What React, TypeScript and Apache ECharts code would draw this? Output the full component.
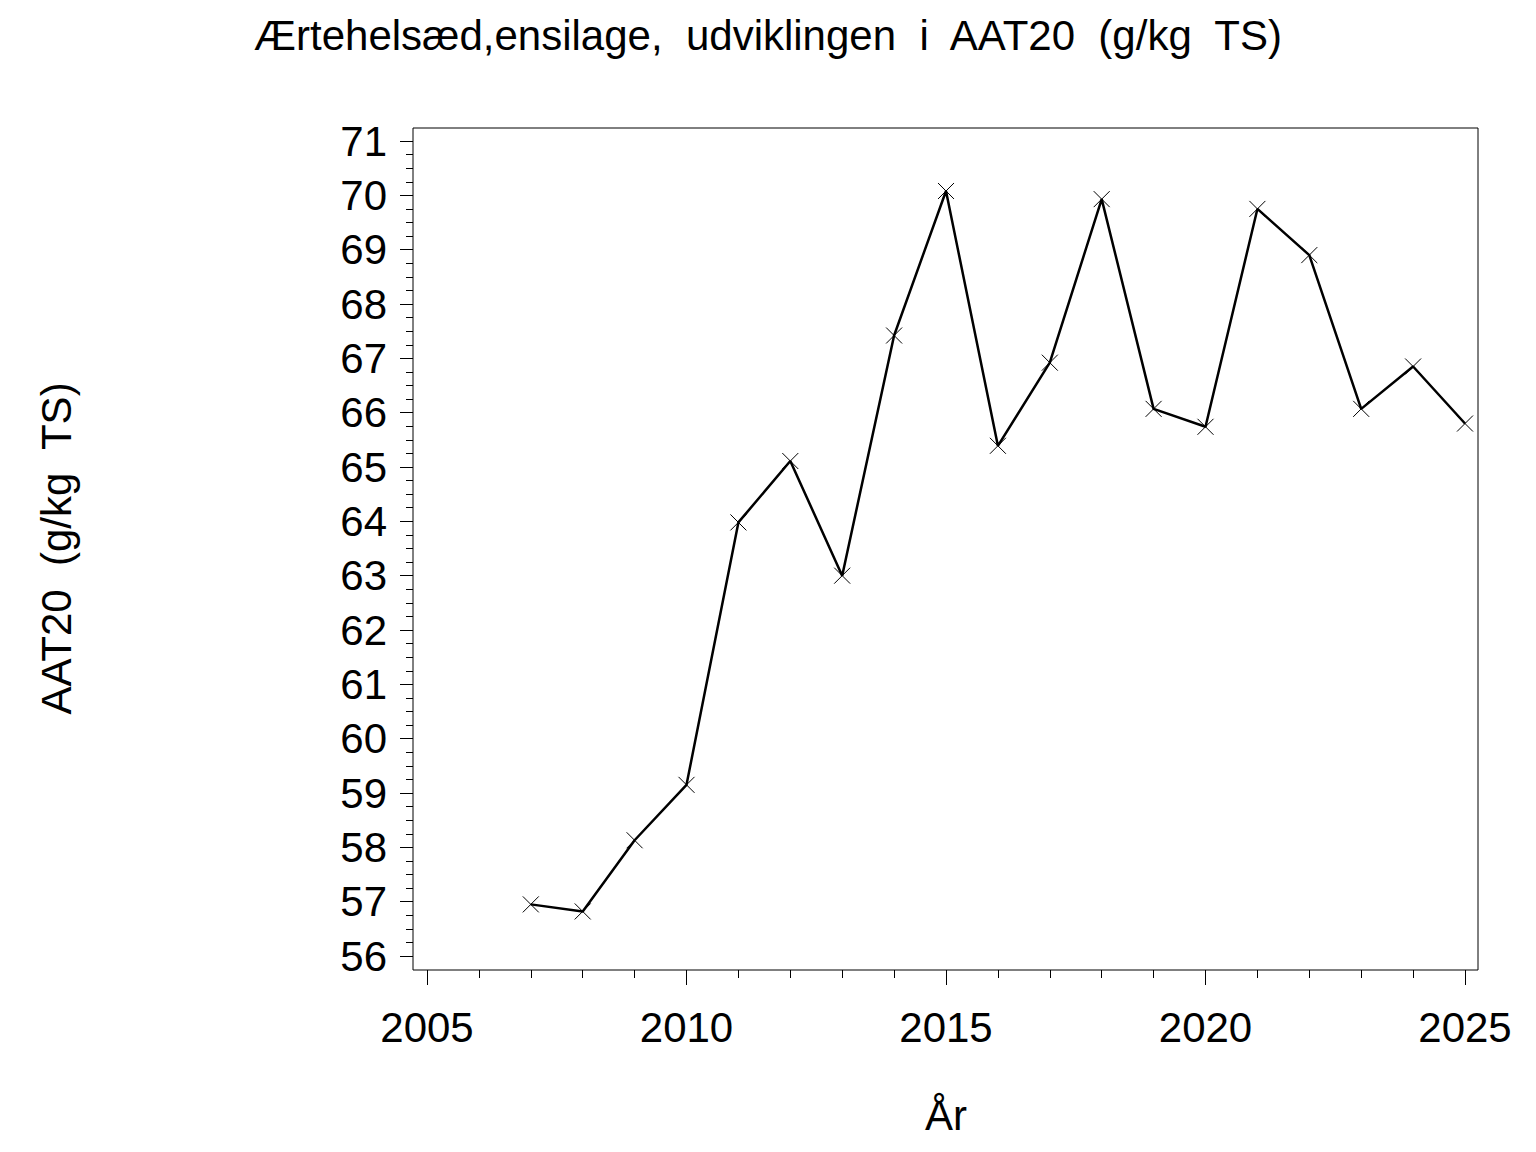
import React, { useEffect, useRef } from "react";
import * as echarts from "echarts";

const years = [2007, 2008, 2009, 2010, 2011, 2012, 2013, 2014, 2015, 2016, 2017, 2018, 2019, 2020, 2021, 2022, 2023, 2024, 2025];
const aat20 = [56.95, 56.82, 58.13, 59.15, 63.98, 65.11, 63.0, 67.42, 70.08, 65.39, 66.92, 69.93, 66.07, 65.74, 69.75, 68.9, 66.07, 66.85, 65.8];

const titleText = "Ærtehelsæd,ensilage,  udviklingen  i  AAT20  (g/kg  TS)";
const yName = "AAT20  (g/kg  TS)";
const xName = "År";

const FONT = "'Liberation Sans', Arial, sans-serif";

export default function App() {
  const ref = useRef<HTMLDivElement>(null);
  useEffect(() => {
    if (!ref.current) return;
    const chart = echarts.init(ref.current, undefined, { renderer: "svg" });
    const data = years.map((y, i) => [y, aat20[i]]);
    chart.setOption({
      animation: false,
      backgroundColor: "#fff",
      title: {
        text: titleText,
        left: "center",
        top: 9,
        textStyle: { fontFamily: FONT, fontSize: 42, fontWeight: "normal", color: "#000" },
      },
      grid: { left: 427, right: 71, top: 141, bottom: 196 },
      graphic: [
        {
          type: "rect",
          shape: { x: 413, y: 128, width: 1065, height: 842 },
          style: { fill: "none", stroke: "#000", lineWidth: 1 },
          silent: true,
        },
      ],
      xAxis: {
        type: "value",
        min: 2005,
        max: 2025,
        interval: 5,
        offset: 14,
        name: xName,
        nameLocation: "middle",
        nameGap: 124,
        nameTextStyle: { fontFamily: FONT, fontSize: 42, color: "#000" },
        axisLine: { show: false },
        axisTick: { show: true, length: 15, lineStyle: { color: "#000", width: 1 } },
        minorTick: { show: true, splitNumber: 5, length: 8, lineStyle: { color: "#000", width: 1 } },
        splitLine: { show: false },
        axisLabel: { fontFamily: FONT, fontSize: 42, color: "#000", margin: 36, formatter: (v: number) => String(v) },
      },
      yAxis: {
        type: "value",
        min: 56,
        max: 71,
        interval: 1,
        offset: 14,
        name: yName,
        nameLocation: "middle",
        nameGap: 336,
        nameRotate: 90,
        nameTextStyle: { fontFamily: FONT, fontSize: 42, color: "#000" },
        axisLine: { show: false },
        axisTick: { show: true, length: 13, lineStyle: { color: "#000", width: 1 } },
        minorTick: { show: true, splitNumber: 4, length: 7, lineStyle: { color: "#000", width: 1 } },
        splitLine: { show: false },
        axisLabel: { fontFamily: FONT, fontSize: 42, color: "#000", margin: 26 },
      },
      series: [
        {
          type: "line",
          data,
          symbol: "path://M0,0L10,10M10,0L0,10",
          symbolSize: 16,
          showAllSymbol: true,
          itemStyle: { color: "none", borderColor: "#000", borderWidth: 1 },
          lineStyle: { color: "#000", width: 2.5 },
        },
      ],
    });
    return () => chart.dispose();
  }, []);
  return <div ref={ref} style={{ position: "fixed", left: 0, top: 0, width: 1536, height: 1152 }} />;
}
